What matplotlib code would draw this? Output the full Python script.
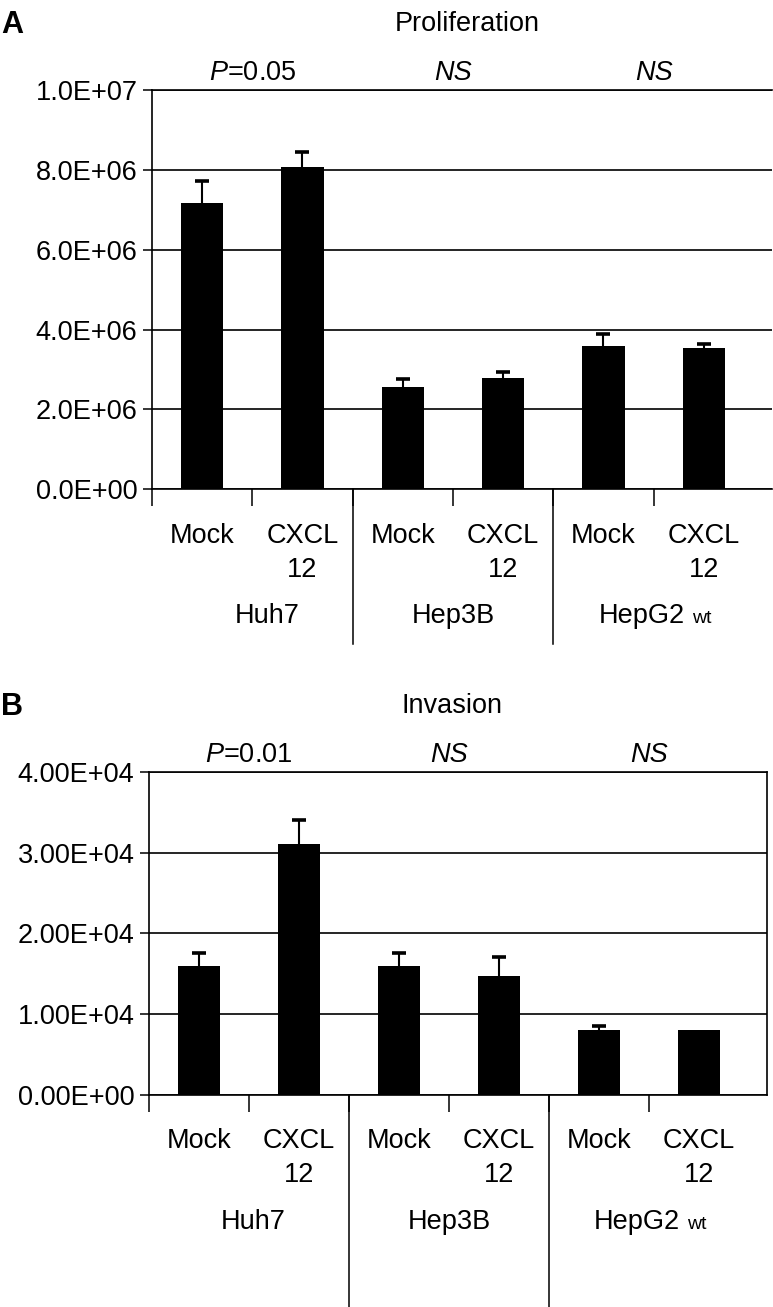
import matplotlib
matplotlib.use("Agg")
import matplotlib.pyplot as plt
from matplotlib.ticker import FuncFormatter, FixedLocator
from matplotlib.transforms import blended_transform_factory

plt.rcParams['font.family'] = ['Liberation Sans', 'DejaVu Sans']
plt.rcParams['mathtext.fontset'] = 'custom'
plt.rcParams['mathtext.rm'] = 'Liberation Sans'
plt.rcParams['mathtext.it'] = 'Liberation Sans:italic'

# ---------------- data ----------------
conditions = ['Mock', 'CXCL\n12']
cell_lines = ['Huh7', 'Hep3B', 'HepG2']
cell_suffix = ['', '', 'wt']

prolif_mean = [7.18e6, 8.06e6, 2.55e6, 2.79e6, 3.60e6, 3.53e6]
prolif_err = [0.53e6, 0.38e6, 0.21e6, 0.14e6, 0.28e6, 0.11e6]
prolif_yticks = [0, 2e6, 4e6, 6e6, 8e6, 1e7]
prolif_sig = ['$P$=0.05', 'NS', 'NS']

inv_mean = [1.59e4, 3.11e4, 1.59e4, 1.47e4, 0.80e4, 0.80e4]
inv_err = [0.17e4, 0.29e4, 0.17e4, 0.24e4, 0.05e4, 0.0]
inv_yticks = [0, 1e4, 2e4, 3e4, 4e4]
inv_sig = ['$P$=0.01', 'NS', 'NS']

W, H = 773, 1307
FS = 19.5

fig = plt.figure(figsize=(W / 100, H / 100), dpi=100)


def rect(l, r, t, b):
    return [l / W, 1 - b / H, (r - l) / W, (b - t) / H]


def panel(ax, means, errs, yticks, fmt, sig, title, title_x, title_y,
          letter, letter_y, axis_bottom_px, axis_top_px, sep_frac,
          right_spine, huh7_x):
    n = len(means)
    xs = list(range(n))
    ax.bar(xs, means, width=0.42, color='black', zorder=3)
    # upper-only error bars: stems + caps
    ex = [x for x, e in zip(xs, errs) if e > 0]
    em = [m for m, e in zip(means, errs) if e > 0]
    ee = [e for e in errs if e > 0]
    ax.errorbar(ex, em, yerr=[[0] * len(ee), ee], fmt='none', ecolor='black',
                elinewidth=1.5, capsize=0, zorder=4)
    ax.plot(ex, [m + e for m, e in zip(em, ee)], linestyle='none', marker='_',
            markersize=10.5, markeredgewidth=2.6, color='black', zorder=4)
    ax.set_xlim(-0.5, 5.68)
    ax.set_ylim(yticks[0], yticks[-1])
    ax.yaxis.set_major_locator(FixedLocator(yticks))
    ax.yaxis.set_major_formatter(FuncFormatter(lambda v, p: fmt.format(v)))
    ax.yaxis.grid(True, color='black', lw=1.2)
    ax.set_axisbelow(True)
    ax.tick_params(axis='y', direction='out', length=6.5, width=1.1,
                   labelsize=FS, pad=4)
    ax.xaxis.set_major_locator(FixedLocator([-0.5, 0.5, 1.5, 2.5, 3.5, 4.5]))
    ax.tick_params(axis='x', direction='out', length=12, width=1.1,
                   labelbottom=False)
    for s in ['left', 'bottom', 'top', 'right']:
        ax.spines[s].set_linewidth(1.2)
    ax.spines['right'].set_visible(right_spine)

    # group separators extending below the axis
    for xv in [1.5, 3.5]:
        ax.plot([xv, xv], [0, sep_frac], color='black', lw=1.1,
                transform=ax.get_xaxis_transform(), clip_on=False)

    tr = blended_transform_factory(ax.transData, fig.transFigure)
    # category labels (top aligned so first lines share a baseline)
    for i in range(n):
        ax.text(i, 1 - (axis_bottom_px + 33.5) / H, conditions[i % 2],
                transform=tr, ha='center', va='top', fontsize=FS,
                linespacing=1.4)
    # cell line labels
    gx = [huh7_x, 2.5, 4.5]
    for g in range(3):
        y = 1 - (axis_bottom_px + 134) / H
        if cell_suffix[g]:
            ax.annotate(cell_lines[g], xy=(gx[g], y), xycoords=tr,
                        xytext=(22.5, 0), textcoords='offset points',
                        ha='right', va='baseline', fontsize=FS)
            ax.annotate(cell_suffix[g], xy=(gx[g], y), xycoords=tr,
                        xytext=(27.5, 0), textcoords='offset points',
                        ha='left', va='baseline', fontsize=14)
        else:
            ax.text(gx[g], y, cell_lines[g], transform=tr, ha='center',
                    va='baseline', fontsize=FS)
    # significance labels
    for g in range(3):
        style = 'normal' if '$' in sig[g] else 'italic'
        ax.text(0.5 + 2 * g, 1 - (axis_top_px - 10) / H, sig[g], transform=tr,
                ha='center', va='baseline', fontsize=FS, fontstyle=style)
    fig.text(title_x / W, 1 - title_y / H, title, ha='center', va='baseline',
             fontsize=FS)
    fig.text(1 / W, 1 - letter_y / H, letter, ha='left', va='baseline',
             fontsize=22, fontweight='bold')


axA = fig.add_axes(rect(152, 772, 90, 489.3))
panel(axA, prolif_mean, prolif_err, prolif_yticks, '{:.1E}', prolif_sig,
      'Proliferation', 467, 31, 'A', 33, 489.3, 90, -0.387, False, 0.65)

axB = fig.add_axes(rect(149, 767, 771.7, 1095))
panel(axB, inv_mean, inv_err, inv_yticks, '{:.2E}', inv_sig,
      'Invasion', 452, 713, 'B', 715, 1095, 771.7, -0.67, True, 0.54)

fig.savefig('out.png', dpi=100)
